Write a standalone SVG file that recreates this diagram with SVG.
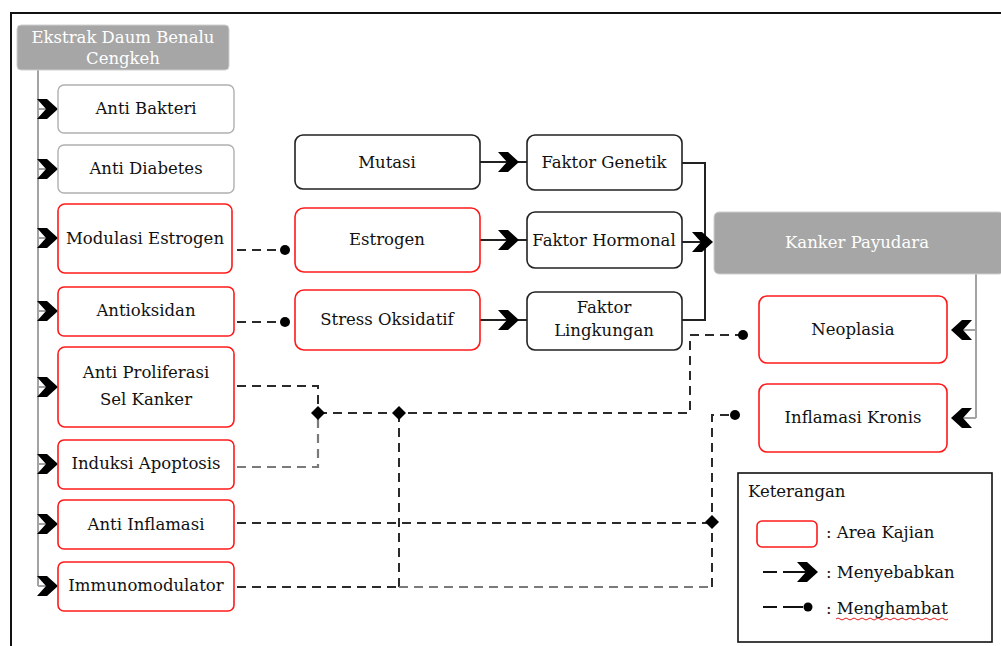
<svg xmlns="http://www.w3.org/2000/svg" width="1001" height="646" viewBox="0 0 1001 646">
<style>
text{font-family:"DejaVu Serif","Liberation Serif",serif;font-size:16.5px;fill:#111;text-anchor:middle}
.wt{fill:#fff}
.lt{text-anchor:start}
.red{fill:#fff;stroke:#ff1a1a;stroke-width:1.6}
.blk{fill:#fff;stroke:#222;stroke-width:1.6}
.gry{fill:#fff;stroke:#b0b0b0;stroke-width:1.4}
.head{fill:#a6a6a6;stroke:#cfcfcf;stroke-width:1}
.spine{fill:none;stroke:#a3a3a3;stroke-width:2}
.solid{fill:none;stroke:#222;stroke-width:2}
.dash{fill:none;stroke:#2a2a2a;stroke-width:2;stroke-dasharray:9,6}
.dashg{fill:none;stroke:#7a7a7a;stroke-width:2.2;stroke-dasharray:9,6}
.mk{fill:#000}
</style>
<defs>
<path id="chev" d="M-21,-10 L-11,-10 L0,0 L-11,10 L-21,10 L-12,0 Z"/>
<circle id="dot" r="5"/>
<path id="dia" d="M0,-7 L7,0 L0,7 L-7,0 Z"/>
</defs>
<rect width="1001" height="646" fill="#fff"/>
<path d="M11,646 V13 H1001" fill="none" stroke="#111" stroke-width="2"/>

<g id="connectors">
<path class="spine" d="M38,70 V586 M38,109 H56 M38,169 H56 M38,238 H56 M38,311 H56 M38,387 H56 M38,464 H56 M38,524 H56 M38,586 H56"/>
<g class="mk">
<use href="#chev" transform="translate(58,109)"/>
<use href="#chev" transform="translate(58,169)"/>
<use href="#chev" transform="translate(58,238)"/>
<use href="#chev" transform="translate(58,311)"/>
<use href="#chev" transform="translate(58,387)"/>
<use href="#chev" transform="translate(58,464)"/>
<use href="#chev" transform="translate(58,524)"/>
<use href="#chev" transform="translate(58,586)"/>
</g>
<path class="solid" d="M480,162 H527 M480,240 H527 M480,320 H527 M682,163 H705 V320 H682 M682,242 H710"/>
<g class="mk">
<use href="#chev" transform="translate(519,162)"/>
<use href="#chev" transform="translate(519,240)"/>
<use href="#chev" transform="translate(519,320)"/>
<use href="#chev" transform="translate(713,242)"/>
</g>
<path class="spine" d="M976,274 V418 M976,330 H952 M976,418 H952"/>
<g class="mk">
<use href="#chev" transform="translate(951,330) scale(-1,1)"/>
<use href="#chev" transform="translate(951,418) scale(-1,1)"/>
</g>
<path class="dash" d="M237,250 H283"/>
<path class="dash" d="M237,322 H283"/>
<path class="dash" d="M237,386 H318 V413"/>
<path class="dashg" d="M237,467 H318 V413"/>
<path class="dash" d="M318,413 H690 V335 H740"/>
<path class="dash" d="M399,413 V587"/>
<path class="dash" d="M237,523 H712"/>
<path class="dash" d="M237,587 H399"/>
<path class="dashg" d="M399,587 H712"/>
<path class="dash" d="M712,587 V415 H732"/>
<g class="mk">
<use href="#dot" transform="translate(285,250)"/>
<use href="#dot" transform="translate(285,322)"/>
<use href="#dot" transform="translate(743,335)"/>
<use href="#dot" transform="translate(735,415)"/>
<use href="#dia" transform="translate(318,413)"/>
<use href="#dia" transform="translate(399,413)"/>
<use href="#dia" transform="translate(712,522)"/>
</g>
</g>

<g id="ekstrak"><rect class="head" x="17" y="25" width="212" height="45" rx="4"/><text class="wt" x="123" y="43">Ekstrak Daum Benalu</text><text class="wt" x="123" y="64">Cengkeh</text></g>
<g id="anti-bakteri"><rect class="gry" x="58" y="85" width="176" height="48" rx="6"/><text x="146" y="114">Anti Bakteri</text></g>
<g id="anti-diabetes"><rect class="gry" x="58" y="145" width="176" height="48" rx="6"/><text x="146" y="174">Anti Diabetes</text></g>
<g id="modulasi-estrogen"><rect class="red" x="58" y="204" width="174" height="69" rx="7"/><text x="145" y="244">Modulasi Estrogen</text></g>
<g id="antioksidan"><rect class="red" x="58" y="287" width="176" height="49" rx="6"/><text x="146" y="316">Antioksidan</text></g>
<g id="anti-proliferasi"><rect class="red" x="58" y="347" width="176" height="80" rx="7"/><text x="146" y="378">Anti Proliferasi</text><text x="146" y="405">Sel Kanker</text></g>
<g id="induksi-apoptosis"><rect class="red" x="58" y="440" width="176" height="49" rx="6"/><text x="146" y="469">Induksi Apoptosis</text></g>
<g id="anti-inflamasi"><rect class="red" x="58" y="500" width="176" height="49" rx="6"/><text x="146" y="530">Anti Inflamasi</text></g>
<g id="immunomodulator"><rect class="red" x="58" y="562" width="176" height="49" rx="6"/><text x="146" y="591">Immunomodulator</text></g>

<g id="mutasi"><rect class="blk" x="295" y="135" width="185" height="54" rx="8"/><text x="387" y="168">Mutasi</text></g>
<g id="estrogen"><rect class="red" x="295" y="208" width="185" height="64" rx="9"/><text x="387" y="245">Estrogen</text></g>
<g id="stress-oksidatif"><rect class="red" x="295" y="290" width="185" height="60" rx="9"/><text x="387" y="325">Stress Oksidatif</text></g>

<g id="faktor-genetik"><rect class="blk" x="527" y="135" width="155" height="55" rx="8"/><text x="604" y="168">Faktor Genetik</text></g>
<g id="faktor-hormonal"><rect class="blk" x="527" y="212" width="155" height="56" rx="8"/><text x="604" y="246">Faktor Hormonal</text></g>
<g id="faktor-lingkungan"><rect class="blk" x="527" y="292" width="155" height="58" rx="8"/><text x="604" y="313">Faktor</text><text x="604" y="336">Lingkungan</text></g>

<g id="kanker-payudara"><rect class="head" x="714" y="212" width="290" height="62" rx="5"/><text class="wt" x="857" y="248">Kanker Payudara</text></g>
<g id="neoplasia"><rect class="red" x="759" y="296" width="188" height="67" rx="8"/><text x="853" y="335">Neoplasia</text></g>
<g id="inflamasi-kronis"><rect class="red" x="759" y="384" width="188" height="68" rx="8"/><text x="853" y="423">Inflamasi Kronis</text></g>

<g id="legend">
<rect x="738" y="473" width="254" height="169" fill="#fff" stroke="#111" stroke-width="1.6"/>
<text class="lt" x="748" y="497">Keterangan</text>
<rect class="red" x="757" y="521" width="60" height="26" rx="5"/>
<text class="lt" x="826" y="538">: Area Kajian</text>
<path d="M763,572 H777 M783,572 H806" fill="none" stroke="#111" stroke-width="2"/>
<use href="#chev" class="mk" transform="translate(818,572)"/>
<text class="lt" x="826" y="578">: Menyebabkan</text>
<path d="M763,607 H777 M783,607 H803" fill="none" stroke="#111" stroke-width="2"/>
<use href="#dot" class="mk" transform="translate(808,607) scale(0.9)"/>
<text class="lt" x="826" y="614">: Menghambat</text>
<path d="M836,619 q2,-2 4,0 t4,0 t4,0 t4,0 t4,0 t4,0 t4,0 t4,0 t4,0 t4,0 t4,0 t4,0 t4,0 t4,0 t4,0 t4,0 t4,0 t4,0 t4,0 t4,0 t4,0 t4,0 t4,0 t4,0 t4,0 t4,0 t4,0 t4,0" fill="none" stroke="#e02020" stroke-width="1"/>
</g>
</svg>
